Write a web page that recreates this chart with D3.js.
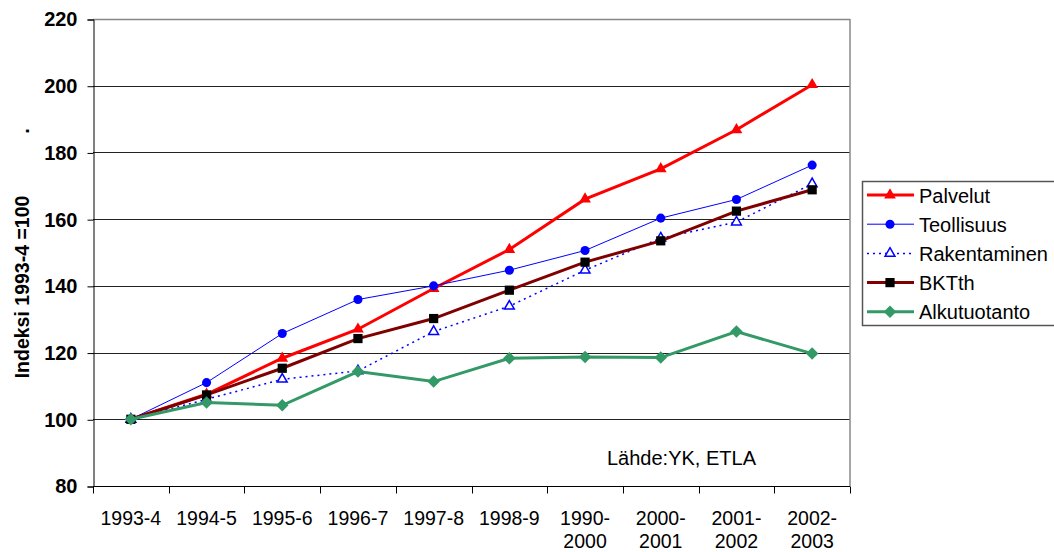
<!DOCTYPE html>
<html>
<head>
<meta charset="utf-8">
<script src="https://cdn.jsdelivr.net/npm/d3@7"></script>
<style>
  body { margin: 0; background: #fff; }
  svg { font-family: "Liberation Sans", Arial, sans-serif; }
</style>
</head>
<body>
<div id="chart"></div>
<script>
var periods = ["1993-4", "1994-5", "1995-6", "1996-7", "1997-8", "1998-9", "1990-2000", "2000-2001", "2001-2002", "2002-2003"];
var palvelut = [100, 107.5, 118.3, 127, 139.2, 150.9, 166, 175.1, 186.8, 200.3];
var teollisuus = [100, 111, 125.7, 135.9, 140, 144.7, 150.6, 160.3, 165.9, 176.2];
var rakentaminen = [100, 106, 112, 114.5, 126.3, 133.9, 144.7, 154.3, 159.1, 170.6];
var bktth = [100, 107.3, 115.3, 124.2, 130.2, 138.7, 147.1, 153.5, 162.4, 168.8];
var alkutuotanto = [100, 105, 104.2, 114.3, 111.3, 118.3, 118.7, 118.5, 126.3, 119.7];
var yTicks = [80, 100, 120, 140, 160, 180, 200, 220];

var series = [
  {name: "Palvelut", values: palvelut, color: "#ff0000", width: 3, dash: null, marker: "triangle", fill: "#ff0000"},
  {name: "Teollisuus", values: teollisuus, color: "#0000ff", width: 1, dash: null, marker: "circle", fill: "#0000ff"},
  {name: "Rakentaminen", values: rakentaminen, color: "#0000ff", width: 1.5, dash: "2,4", marker: "triangle", fill: "#ffffff"},
  {name: "BKTth", values: bktth, color: "#800000", width: 3, dash: null, marker: "square", fill: "#000000"},
  {name: "Alkutuotanto", values: alkutuotanto, color: "#339966", width: 3, dash: null, marker: "diamond", fill: "#339966"}
];

var W = 1054, H = 552;
var plotLeft = 93, plotRight = 850, plotTop = 19, plotBottom = 486;

var svg = d3.select("#chart").append("svg")
  .attr("width", W).attr("height", H);

var x = d3.scaleBand().domain(periods).range([plotLeft, plotRight]);
var y = d3.scaleLinear().domain([80, 220]).range([plotBottom, plotTop]);
var cx = function(i) { return x(periods[i]) + x.bandwidth() / 2; };

// gridlines
svg.append("g").selectAll("line")
  .data(yTicks.slice(1))
  .enter().append("line")
  .attr("x1", plotLeft).attr("x2", plotRight)
  .attr("y1", function(d) { return Math.round(y(d)) + 0.5; })
  .attr("y2", function(d) { return Math.round(y(d)) + 0.5; })
  .attr("stroke", function(d) { return d === 220 ? "#888" : "#222"; })
  .attr("stroke-width", function(d) { return d === 220 ? 1.5 : 1; });

// right border
svg.append("line")
  .attr("x1", plotRight).attr("x2", plotRight).attr("y1", plotTop).attr("y2", plotBottom)
  .attr("stroke", "#888").attr("stroke-width", 1.5);

// y axis
var yAxis = svg.append("g")
  .attr("transform", "translate(" + (plotLeft + 0.5) + ",0.5)")
  .call(d3.axisLeft(y).tickValues(yTicks).tickSize(6).tickPadding(10));
yAxis.selectAll("text").attr("font-size", 20).attr("font-weight", "bold")
  .attr("fill", "#000").attr("font-family", "Liberation Sans, Arial, sans-serif");
yAxis.selectAll("line, path").attr("stroke", "#000");

// x axis (ticks at category boundaries)
var xg = svg.append("g").attr("transform", "translate(0," + (plotBottom + 0.5) + ")");
xg.append("line").attr("x1", plotLeft).attr("x2", plotRight).attr("stroke", "#000");
xg.selectAll(".tick")
  .data(d3.range(periods.length + 1))
  .enter().append("line")
  .attr("x1", function(i) { return Math.round(plotLeft + i * x.bandwidth()) + 0.5; })
  .attr("x2", function(i) { return Math.round(plotLeft + i * x.bandwidth()) + 0.5; })
  .attr("y1", 0).attr("y2", 7).attr("stroke", "#000");

var xl = svg.append("g").selectAll("text")
  .data(periods)
  .enter().append("text")
  .attr("text-anchor", "middle")
  .attr("font-size", 19.5)
  .attr("fill", "#000");
xl.each(function(d, i) {
  var t = d3.select(this);
  var parts = d.length > 7 ? [d.slice(0, 5), d.slice(5)] : [d];
  parts.forEach(function(p, k) {
    t.append("tspan").attr("x", cx(i)).attr("y", 525 + k * 23).text(p);
  });
});

// y title
svg.append("text")
  .attr("transform", "translate(29,287) rotate(-90)")
  .attr("text-anchor", "middle")
  .attr("font-size", 19.5).attr("font-weight", "bold")
  .text("Indeksi 1993-4 =100");
svg.append("text")
  .attr("transform", "translate(29,131) rotate(-90)")
  .attr("text-anchor", "middle")
  .attr("font-size", 20).attr("font-weight", "bold")
  .text(".");

// source
svg.append("text").attr("x", 607).attr("y", 465)
  .attr("font-size", 20).text("Lähde:YK, ETLA");

var symbolFor = function(m, open) {
  if (m === "triangle") return d3.symbol().type(d3.symbolTriangle).size(open ? 42 : 60);
  if (m === "circle") return d3.symbol().type(d3.symbolCircle).size(65);
  if (m === "square") return d3.symbol().type(d3.symbolSquare).size(85);
  return d3.symbol().type(d3.symbolDiamond2).size(100);
};

var line = d3.line()
  .x(function(d, i) { return cx(i); })
  .y(function(d) { return y(d); });

series.forEach(function(s) {
  var open = s.fill === "#ffffff";
  var g = svg.append("g");
  g.append("path")
    .attr("d", line(s.values))
    .attr("fill", "none")
    .attr("stroke", s.color)
    .attr("stroke-width", s.width)
    .attr("stroke-dasharray", s.dash);
  g.selectAll("path.m")
    .data(s.values)
    .enter().append("path")
    .attr("class", "m")
    .attr("transform", function(d, i) { return "translate(" + cx(i) + "," + y(d) + ")"; })
    .attr("d", symbolFor(s.marker, open)())
    .attr("fill", s.fill)
    .attr("stroke", open ? s.color : "none")
    .attr("stroke-width", 1.5);
});

// legend
var lg = svg.append("g");
lg.append("rect").attr("x", 862.5).attr("y", 181.5).attr("width", 200).attr("height", 144)
  .attr("fill", "#fff").attr("stroke", "#555").attr("stroke-width", 1.5);
series.forEach(function(s, k) {
  var ly = 195 + k * 29.2;
  var open = s.fill === "#ffffff";
  lg.append("line").attr("x1", 867).attr("x2", 914).attr("y1", ly).attr("y2", ly)
    .attr("stroke", s.color).attr("stroke-width", s.width).attr("stroke-dasharray", s.dash);
  lg.append("path").attr("transform", "translate(890," + ly + ")")
    .attr("d", symbolFor(s.marker, open)())
    .attr("fill", s.fill)
    .attr("stroke", open ? s.color : "none").attr("stroke-width", 1.5);
  lg.append("text").attr("x", 919).attr("y", ly + 7.5)
    .attr("font-size", 20).text(s.name);
});
</script>
</body>
</html>
